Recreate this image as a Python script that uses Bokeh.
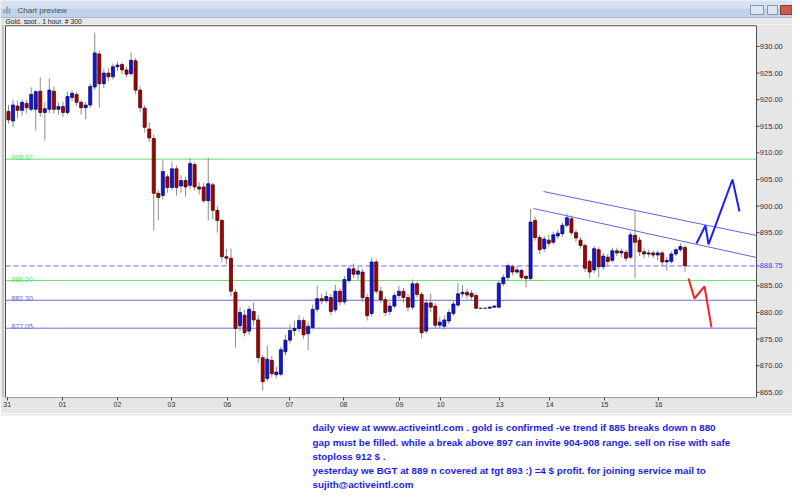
from bokeh.plotting import figure
from bokeh.models import Range1d, FixedTicker, ColumnDataSource
from bokeh.layouts import column
from bokeh.embed import file_html
from bokeh.resources import INLINE
from bokeh.core.properties import value

FONT = "Liberation Sans"

# ---------------- data (2-hour candles) ----------------
opens = [917.8, 916.0, 918.8, 918.0, 919.3, 918.2, 918.2, 921.6, 917.6, 918.2,
         921.6, 918.2, 918.7, 917.6, 920.4, 921.0, 919.5, 918.5, 919.0, 922.4,
         928.6, 923.0, 925.0, 924.3, 926.2, 926.6, 925.6, 924.9, 927.3, 921.8,
         918.4, 914.5, 912.7, 902.4, 902.0, 905.5, 903.5, 907.0, 903.8, 904.8,
         903.9, 907.8, 903.6, 903.6, 901.0, 904.0, 899.2, 897.3, 890.5, 890.2,
         883.8, 877.5, 879.5, 876.5, 880.2, 878.6, 871.5, 867.6, 871.0, 868.3,
         868.4, 872.6, 874.8, 876.6, 877.0, 878.5, 876.0, 877.2, 880.6, 882.6,
         882.2, 882.8, 880.5, 884.0, 882.0, 886.0, 888.2, 887.2, 887.6, 882.8,
         879.8, 889.5, 884.0, 882.4, 880.2, 881.2, 883.2, 884.0, 882.8, 881.0,
         885.4, 883.4, 876.5, 881.8, 881.2, 877.6, 877.4, 878.4, 879.8, 881.4,
         883.5, 883.8, 883.6, 883.2, 880.8, 880.8, 880.8, 881.0, 881.0, 885.4,
         886.6, 888.6, 887.6, 887.9, 886.8, 886.4, 897.3, 894.1, 892.0, 893.6,
         893.2, 894.4, 894.8, 896.4, 897.6, 895.0, 893.6, 892.6, 889.6, 888.0,
         891.8, 888.6, 890.4, 889.8, 891.6, 891.2, 891.3, 890.4, 894.5, 893.6,
         891.4, 891.0, 891.2, 890.8, 891.2, 889.5, 889.6, 891.0, 891.8, 892.2]
highs = [919.0, 920.0, 919.8, 920.0, 920.0, 922.3, 921.8, 924.2, 919.5, 924.0,
         922.5, 919.5, 919.6, 921.5, 921.8, 921.4, 919.9, 919.6, 923.0, 932.6,
         929.2, 925.8, 926.0, 926.8, 927.2, 927.0, 926.2, 928.9, 927.8, 922.5,
         919.0, 915.7, 913.5, 903.0, 908.6, 906.0, 908.3, 907.6, 905.8, 905.5,
         909.0, 908.2, 904.5, 904.4, 909.1, 904.4, 900.0, 897.6, 892.0, 892.0,
         884.3, 881.0, 880.5, 881.2, 881.9, 879.5, 872.0, 873.8, 871.8, 869.8,
         873.5, 875.8, 877.8, 878.5, 879.5, 879.0, 878.3, 881.5, 885.0, 883.5,
         884.0, 883.5, 885.2, 884.5, 886.8, 888.8, 889.2, 888.6, 888.2, 883.5,
         890.3, 890.0, 884.8, 883.0, 882.0, 883.8, 885.0, 884.6, 883.5, 886.2,
         885.8, 883.8, 882.5, 883.6, 881.8, 879.2, 879.4, 880.6, 882.2, 885.5,
         885.2, 884.5, 884.2, 883.6, 880.8, 880.8, 881.2, 881.4, 886.0, 887.2,
         889.2, 889.0, 888.8, 888.2, 887.0, 899.5, 898.0, 894.6, 894.4, 894.6,
         895.2, 895.6, 897.0, 898.6, 898.2, 895.6, 894.2, 893.0, 890.0, 892.5,
         892.3, 891.2, 891.0, 892.2, 892.2, 892.0, 891.8, 895.2, 899.2, 894.2,
         892.0, 891.8, 891.6, 891.6, 891.6, 890.4, 891.5, 892.2, 893.0, 892.6]
lows = [915.5, 914.8, 916.5, 917.0, 917.5, 917.8, 914.2, 916.8, 912.3, 917.5,
        917.4, 917.2, 916.8, 917.2, 919.8, 918.8, 917.2, 916.3, 918.5, 921.8,
        918.5, 922.2, 923.5, 923.8, 925.4, 924.8, 924.2, 924.5, 921.0, 917.6,
        913.8, 912.0, 895.4, 897.3, 901.2, 902.5, 903.0, 902.0, 902.5, 901.8,
        903.2, 903.0, 902.2, 900.6, 897.3, 897.5, 895.0, 889.5, 889.0, 883.0,
        873.4, 876.5, 875.5, 875.8, 877.5, 870.5, 865.3, 867.0, 867.8, 867.6,
        868.0, 872.0, 874.2, 875.6, 876.3, 875.0, 872.9, 876.8, 880.0, 881.5,
        881.8, 879.5, 880.0, 881.3, 881.5, 885.5, 886.5, 886.2, 882.0, 878.5,
        879.2, 883.5, 881.8, 879.3, 879.5, 880.8, 882.6, 881.8, 880.2, 880.5,
        882.8, 875.1, 876.0, 880.0, 877.0, 877.0, 876.8, 877.8, 879.3, 881.0,
        882.8, 882.6, 882.4, 880.6, 880.8, 880.8, 880.8, 880.8, 880.8, 885.0,
        886.0, 887.0, 887.2, 886.2, 884.7, 886.0, 893.5, 891.0, 891.4, 892.4,
        892.8, 893.8, 894.2, 896.0, 894.6, 893.2, 892.0, 887.6, 886.4, 887.4,
        886.6, 888.0, 888.8, 889.4, 890.6, 890.4, 889.6, 890.0, 886.4, 890.6,
        890.2, 890.4, 890.2, 889.8, 888.6, 887.8, 889.2, 890.6, 891.4, 887.6]
closes = [916.2, 919.0, 918.0, 919.5, 918.5, 921.0, 921.5, 917.6, 918.3, 921.8,
          918.2, 918.7, 917.6, 920.6, 921.2, 919.5, 918.5, 919.0, 922.5, 928.8,
          923.0, 925.0, 924.3, 926.2, 926.5, 925.6, 924.8, 927.4, 921.8, 918.5,
          914.8, 912.8, 902.4, 901.6, 906.5, 903.5, 907.0, 903.5, 904.8, 903.6,
          908.0, 903.6, 903.2, 901.0, 904.2, 899.2, 897.3, 890.5, 890.2, 884.0,
          877.0, 880.0, 876.2, 880.6, 878.6, 871.5, 867.0, 871.2, 868.5, 868.8,
          873.0, 874.8, 876.6, 877.0, 878.5, 875.8, 877.4, 880.6, 882.6, 882.2,
          883.0, 880.2, 884.0, 882.0, 886.2, 888.2, 887.2, 887.8, 882.8, 879.4,
          889.5, 884.0, 882.4, 880.0, 881.2, 883.2, 884.0, 882.8, 881.0, 885.4,
          883.4, 876.2, 881.8, 881.0, 877.6, 878.2, 878.6, 880.0, 881.6, 883.5,
          883.8, 883.3, 883.0, 880.8, 880.8, 880.8, 881.0, 881.2, 885.5, 886.6,
          888.8, 887.6, 888.0, 886.6, 886.4, 897.0, 894.1, 891.8, 893.8, 893.0,
          894.6, 894.9, 896.4, 897.8, 895.0, 894.0, 892.6, 888.3, 887.6, 892.0,
          888.6, 890.6, 889.6, 891.6, 891.2, 891.5, 890.2, 894.6, 893.2, 891.4,
          891.0, 891.2, 890.8, 891.2, 889.5, 889.8, 891.0, 891.8, 892.4, 888.8]

day_tick_pos = [-0.3, 11.9, 24.0, 35.9, 48.2, 61.9, 73.8, 86.1, 95.2, 108.2, 119.2, 131.3, 143.2]
day_labels = ["31", "01", "02", "03", "06", "07", "08", "09", "10", "13", "14", "15", "16"]
price_ticks = [865, 870, 875, 880, 885, 895, 900, 905, 910, 915, 920, 925, 930]

level_values = [908.82, 886.00, 882.30, 877.05]
level_texts = ["908.82", "886.00", "882.30", "877.05"]
level_colors = ["#5FE45F", "#5FE45F", "#6A6AE0", "#6A6AE0"]
last_price = 888.75
last_price_text = "888.75"

upper_trend_x = [117.84, 164.76]
upper_trend_y = [902.74, 894.47]
lower_trend_x = [115.64, 164.76]
lower_trend_y = [899.55, 890.34]
blue_path_x = [151.54, 153.52, 154.19, 159.47, 161.01]
blue_path_y = [892.97, 896.35, 892.8, 905.0, 899.0]
red_path_x = [149.78, 151.1, 153.3, 154.85]
red_path_y = [886.4, 882.63, 884.9, 877.2]

window_title = "Chart preview"
chart_subtitle = "Gold, spot , 1 hour, # 300"
note_lines = [
    "daily view at  www.activeintl.com . gold is confirmed -ve trend if 885 breaks down n 880",
    "gap must be filled. while a break above 897 can invite 904-908 range. sell on rise with safe",
    "stoploss 912 $ .",
    "yesterday we BGT at 889 n covered at tgt 893 :) =4 $ profit. for joining service mail to",
    "sujith@activeintl.com",
]

W = 792
GRAY = "#E6E6E6"

# ---------------- window title bar (window pixel coordinates) ----------------
top = figure(width=W, height=24, x_range=Range1d(0, W), y_range=Range1d(24, 0),
             toolbar_location=None, output_backend="svg", min_border=0,
             x_axis_location=None, y_axis_location=None,
             background_fill_color=GRAY, border_fill_color=GRAY, outline_line_color=None)
top.grid.visible = False
top.quad(left=[0], right=[W], top=[0], bottom=[8], fill_color="#D5E2F3", line_color=None)
top.quad(left=[0], right=[W], top=[8], bottom=[16.5], fill_color="#C0D2EA", line_color=None)
top.quad(left=[0], right=[W], top=[16.5], bottom=[17.5], fill_color="#A9BBD3", line_color=None)
top.quad(left=[3, 5.5, 8], right=[5, 7.5, 10], top=[9, 6, 8], bottom=[13, 13, 13],
         fill_color="#9AA3AE", line_color=None)
top.text(x=[17], y=[10.2], text=[window_title], text_font=value(FONT), text_font_size="8px",
         text_color="#505050", text_baseline="middle")
top.quad(left=[750, 767], right=[763, 777], top=[5, 5], bottom=[14, 14],
         fill_color="#DDE6F1", line_color="#8595AD", line_width=1)
top.quad(left=[780], right=[791.5], top=[5], bottom=[14],
         fill_color="#D0584C", line_color="#8A3A30", line_width=1)
top.text(x=[5], y=[21.4], text=[chart_subtitle], text_font=value(FONT), text_font_size="6.8px",
         text_color="#222222", text_baseline="alphabetic")

# ---------------- main candlestick chart ----------------
# plot frame edges (bar-index / price units) and the window margins around them
X0, X1 = -0.661, 164.76
Y0, Y1 = 864.02, 933.9
XMIN, XMAX = -1.762, 172.69
YMAX = 934.135
PX = 1 / 4.54  # one screen pixel in bar-index units

idx = list(range(len(closes)))
body_top = [max(o, c) for o, c in zip(opens, closes)]
body_bot = [min(o, c) for o, c in zip(opens, closes)]
fills = ["#1515DA" if c > o else "#A80000" for o, c in zip(opens, closes)]
lines = ["#00005E" if c > o else "#3A0000" for o, c in zip(opens, closes)]
src = ColumnDataSource(dict(x=idx, o=opens, h=highs, l=lows, c=closes,
                            top=body_top, bottom=body_bot, fill=fills, line=lines))

p = figure(width=W, height=389, x_range=Range1d(XMIN, XMAX), y_range=Range1d(Y0, YMAX),
           y_axis_location=None, toolbar_location=None, output_backend="svg",
           min_border_left=0, min_border_right=0, min_border_top=0, min_border_bottom=16,
           background_fill_color=GRAY, border_fill_color=GRAY, outline_line_color=None)
p.grid.visible = False

# white plotting area + window edge line
p.quad(left=[X0], right=[X1], bottom=[Y0], top=[Y1], fill_color="white", line_color=None)
p.segment(x0=[XMIN + 2.5 * PX], y0=[Y0 - 10], x1=[XMIN + 2.5 * PX], y1=[YMAX + 1],
          line_color="#A8A8A8", line_width=1)

# horizontal levels
p.segment(x0=[X0] * len(level_values), y0=level_values, x1=[X1] * len(level_values), y1=level_values,
          line_color=level_colors, line_width=1)
p.segment(x0=[X0], y0=[last_price], x1=[X1], y1=[last_price], line_color="#6A6AF0",
          line_width=1, line_dash="5 3")

# candles
p.segment(x0="x", y0="l", x1="x", y1="h", source=src, line_color="#8C8C8C", line_width=1)
p.vbar(x="x", width=0.68, top="top", bottom="bottom", source=src,
       fill_color="fill", line_color="line", line_width=0.7)

# drawn trend channel and projected paths
p.line(upper_trend_x, upper_trend_y, line_color="#6262EE", line_width=1)
p.line(lower_trend_x, lower_trend_y, line_color="#6262EE", line_width=1)
p.line(blue_path_x, blue_path_y, line_color="#1E1EF5", line_width=2)
p.line(red_path_x, red_path_y, line_color="#F52020", line_width=2)

p.text(x=[0.66] * len(level_values), y=[v + 0.25 for v in level_values], text=level_texts,
       text_color=level_colors, text_font=value(FONT), text_font_size="7px",
       text_baseline="alphabetic")

# frame outline
p.quad(left=[X0], right=[X1], bottom=[Y0], top=[Y1], fill_color=None,
       line_color="#4E4E4E", line_width=1)

# price scale on the right
p.segment(x0=[X1] * len(price_ticks), y0=price_ticks, x1=[X1 + 3 * PX] * len(price_ticks),
          y1=price_ticks, line_color="#444444", line_width=1)
p.text(x=[X1 + 3.3 * PX] * len(price_ticks), y=price_ticks,
       text=["%.2f" % t for t in price_ticks], text_color="#333333",
       text_font=value(FONT), text_font_size="7.5px", text_baseline="middle")
p.segment(x0=[X1], y0=[last_price], x1=[X1 + 3 * PX], y1=[last_price],
          line_color="#4040FF", line_width=1)
p.text(x=[X1 + 3.3 * PX], y=[last_price], text=[last_price_text], text_color="#4040FF",
       text_font=value(FONT), text_font_size="7.5px", text_baseline="middle")

# day axis below
p.xaxis.ticker = FixedTicker(ticks=day_tick_pos)
p.xaxis.major_label_overrides = {t: s for t, s in zip(day_tick_pos, day_labels)}
p.xaxis.major_label_text_font = FONT
p.xaxis.major_label_text_font_size = "7px"
p.xaxis.major_label_text_color = "#333333"
p.xaxis.axis_line_color = None
p.xaxis.major_tick_out = 3
p.xaxis.major_tick_in = 0
p.xaxis.major_tick_line_color = "#444444"
p.xaxis.minor_tick_line_color = None
p.xaxis.major_label_standoff = 1

# ---------------- note text below ----------------
bot = figure(width=W, height=79, x_range=Range1d(0, W), y_range=Range1d(492, 413),
             toolbar_location=None, output_backend="svg", min_border=0,
             x_axis_location=None, y_axis_location=None,
             background_fill_color="white", border_fill_color="white", outline_line_color=None)
bot.grid.visible = False
bot.quad(left=[0], right=[W], top=[413], bottom=[415], fill_color=GRAY, line_color=None)
bot.text(x=[312] * len(note_lines), y=[427, 441.5, 455.5, 470, 484], text=note_lines,
         text_color="#1E1EE6", text_font=value(FONT), text_font_size="9.8px",
         text_font_style="bold", text_baseline="middle")

layout = column(top, p, bot, spacing=0)
open("out.html", "w").write(file_html(layout, INLINE))
